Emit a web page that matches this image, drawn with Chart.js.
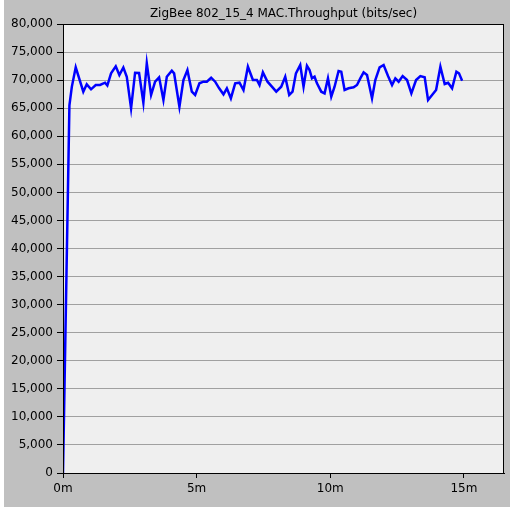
<!DOCTYPE html>
<html>
<head>
<meta charset="utf-8">
<script src="https://cdn.jsdelivr.net/npm/chart.js@4"></script>
<style>
  html, body { margin: 0; padding: 0; background: #ffffff; }
  #wrap { width: 512px; height: 510px; }
</style>
</head>
<body>
<div id="wrap"><canvas id="myChart" width="512" height="510"></canvas></div>
<script>
// sample times (minutes) and MAC throughput (bits/sec)
const times = [
  0, 0.24, 0.33, 0.476, 0.76, 0.888, 1.049, 1.225, 1.386, 1.573, 1.659, 1.798,
  1.974, 2.109, 2.258, 2.386, 2.547, 2.697, 2.846, 3.007, 3.135, 3.296, 3.446,
  3.596, 3.757, 3.884, 4.071, 4.157, 4.356, 4.506, 4.655, 4.82, 4.944, 5.105,
  5.255, 5.382, 5.543, 5.693, 5.843, 6.004, 6.131, 6.281, 6.442, 6.603, 6.753,
  6.918, 7.105, 7.255, 7.352, 7.479, 7.652, 7.816, 7.978, 8.165, 8.315, 8.464,
  8.588, 8.715, 8.876, 9.0, 9.127, 9.225, 9.315, 9.412, 9.502, 9.663, 9.787,
  9.914, 10.037, 10.161, 10.311, 10.412, 10.536, 10.685, 10.873, 11.0, 11.124,
  11.247, 11.375, 11.562, 11.685, 11.846, 11.996, 12.161, 12.311, 12.434,
  12.558, 12.708, 12.873, 13.034, 13.21, 13.371, 13.532, 13.659, 13.809,
  13.959, 14.12, 14.281, 14.408, 14.558, 14.719, 14.816, 14.933
];
const throughput = [
  0, 65500, 68800, 72280, 67940, 69250, 68360, 69130, 69130, 69540, 69040, 71210,
  72460, 70910, 72250, 70610, 64980, 71320, 71270, 65980, 73000, 67350, 69720,
  70500, 66460, 70610, 71680, 71210, 65260, 70020, 71800, 67940, 67350, 69430,
  69720, 69720, 70430, 69720, 68540, 67470, 68540, 66760, 69430, 69540, 68240,
  72390, 70020, 70020, 69130, 71390, 69720, 68830, 67940, 68830, 70610, 67350,
  67940, 71210, 72690, 68830, 72570, 71800, 70320, 70610, 69430, 67940, 67650,
  70320, 67050, 68830, 71620, 71500, 68240, 68540, 68720, 69130, 70320,
  71390, 70910, 66760, 70020, 72280, 72690, 70730, 69130, 70320,
  69720, 70730, 70020, 67650, 70020, 70730, 70500, 66460, 67350,
  68240, 72390, 69310, 69540, 68540, 71500, 71210, 69900
];
const xTicks = [0, 5, 10, 15];
const xTickLabels = ["0m", "5m", "10m", "15m"];
const yMin = 0;
const yMax = 80000;
const yStep = 5000;
const xMax = 16.5;
const title = "ZigBee 802_15_4 MAC.Throughput (bits/sec)";

const FONT = "'DejaVu Sans', 'Liberation Sans', sans-serif";

// grey panel, light plot area, frame and title
const panel = {
  id: "panel",
  beforeDraw(chart) {
    const { ctx, chartArea: a } = chart;
    ctx.save();
    ctx.fillStyle = "#ffffff";
    ctx.fillRect(0, 0, chart.width, chart.height);
    ctx.fillStyle = "#c0c0c0";
    ctx.fillRect(4, 0, 506, 507);
    ctx.fillStyle = "#efefef";
    ctx.fillRect(a.left, a.top, a.right - a.left, a.bottom - a.top);
    ctx.restore();
  },
  afterDraw(chart) {
    const { ctx, chartArea: a } = chart;
    ctx.save();
    ctx.strokeStyle = "#000000";
    ctx.lineWidth = 1;
    ctx.strokeRect(a.left + 0.5, a.top + 0.5, a.right - a.left - 1, a.bottom - a.top);
    ctx.fillStyle = "#000000";
    ctx.font = "12px " + FONT;
    ctx.textAlign = "center";
    ctx.textBaseline = "middle";
    ctx.fillText(title, (a.left + a.right) / 2, 14);
    ctx.restore();
  }
};

const ctx = document.getElementById("myChart").getContext("2d");
new Chart(ctx, {
  type: "line",
  data: {
    datasets: [
      {
        label: title,
        data: times.map((t, i) => ({ x: t, y: throughput[i] })),
        borderColor: "#0000ff",
        borderWidth: 2.5,
        pointRadius: 0,
        tension: 0,
        fill: false
      }
    ]
  },
  options: {
    responsive: false,
    animation: false,
    layout: { padding: { left: 0, top: 24, right: 8, bottom: 7 } },
    plugins: {
      legend: { display: false },
      title: { display: false },
      tooltip: { enabled: false }
    },
    scales: {
      x: {
        type: "linear",
        min: 0,
        max: xMax,
        afterFit(scale) { scale.height = 30; },
        afterBuildTicks(scale) { scale.ticks = xTicks.map((v) => ({ value: v })); },
        border: { display: true, color: "#000000" },
        grid: { drawOnChartArea: false, drawTicks: true, tickLength: 5, tickColor: "#000000" },
        ticks: {
          color: "#000000",
          padding: 4,
          maxRotation: 0,
          font: { family: FONT, size: 12 },
          callback: (v) => xTickLabels[xTicks.indexOf(v)]
        }
      },
      y: {
        min: yMin,
        max: yMax,
        afterFit(scale) { scale.width = 63; },
        border: { display: true, color: "#000000" },
        grid: { color: "#a0a0a0", lineWidth: 1, tickLength: 6, tickColor: "#000000" },
        ticks: {
          stepSize: yStep,
          color: "#000000",
          padding: 4,
          font: { family: FONT, size: 12 },
          callback: (v) => v.toLocaleString("en-US")
        }
      }
    }
  },
  plugins: [panel]
});
</script>
</body>
</html>
